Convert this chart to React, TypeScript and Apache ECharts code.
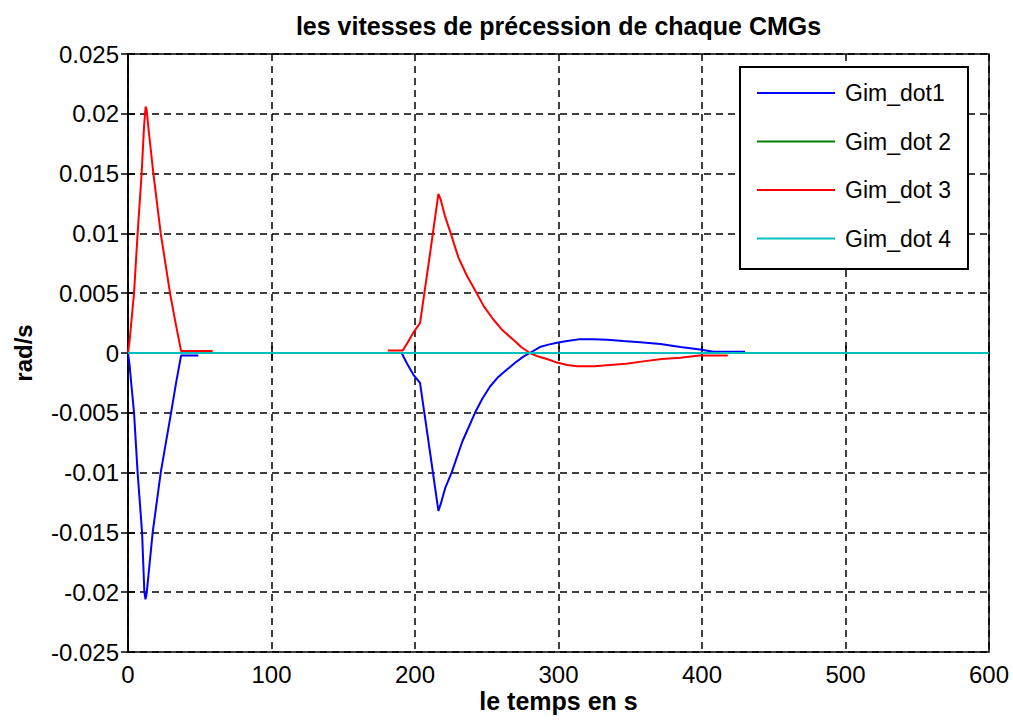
import React, { useEffect, useRef } from "react";
import * as echarts from "echarts";

// Time stamps (s) and precession rates (rad/s) for each gimbal, split in two bursts.
const T_DOT1_A = [0, 1, 4.2, 6.7, 9.8, 11.4, 12.2, 13.1, 17.2, 22.8, 30, 33.5, 37, 49];
const V_DOT1_A = [0, -0.0009, -0.005, -0.01, -0.015, -0.02, -0.0206, -0.02, -0.015, -0.01, -0.005, -0.0025, -0.0002, -0.0002];
const T_DOT1_B = [190.7, 194.5, 198.8, 203.5, 210, 216.3, 218, 221, 225.5, 233, 241.8, 247, 252.3, 258, 263.9, 270, 275.5, 280, 287, 293, 299, 306, 314, 324, 334, 345, 357, 371, 385, 398.6, 408, 430];
const V_DOT1_B = [0, -0.0009, -0.0018, -0.0025, -0.0079, -0.0132, -0.0126, -0.0113, -0.01, -0.0074, -0.005, -0.0038, -0.0028, -0.002, -0.0014, -0.0008, -0.0003, 0, 0.0005, 0.0007, 0.00086, 0.001, 0.00114, 0.00115, 0.0011, 0.001, 0.0009, 0.00075, 0.0005, 0.0003, 0.0001, 0.0001];

const T_DOT3_A = [0, 1, 4.2, 6.7, 9.5, 11.2, 12.3, 13, 14.5, 17.7, 22.8, 29.3, 33, 37, 59];
const V_DOT3_A = [0, 0.0009, 0.005, 0.01, 0.015, 0.019, 0.0206, 0.0203, 0.0185, 0.015, 0.01, 0.005, 0.0026, 0.00016, 0.00016];
const T_DOT3_B = [181, 191.4, 195, 198.8, 203.5, 210, 216.3, 218, 221, 224.9, 230.2, 236, 243, 248, 254.6, 261, 268.5, 274, 280, 286, 292, 299, 306, 313, 325, 336, 347, 359, 372, 385, 398, 418];
const V_DOT3_B = [0.0002, 0.0002, 0.0009, 0.0017, 0.0025, 0.0079, 0.0133, 0.0128, 0.0114, 0.01, 0.008, 0.0065, 0.005, 0.0039, 0.0028, 0.0019, 0.0011, 0.0005, 0, -0.0003, -0.0005, -0.0008, -0.001, -0.0011, -0.0011, -0.001, -0.0009, -0.0007, -0.0005, -0.0004, -0.0002, -0.0002];

// Gimbals 2 and 4 stay at rest over the whole run.
const T_IDLE = [0, 600];
const V_DOT2 = [0, 0];
const V_DOT4 = [0, 0];

const SERIES_NAMES = ["Gim_dot1", "Gim_dot 2", "Gim_dot 3", "Gim_dot 4"];
const SERIES_COLORS = ["#0000ff", "#008000", "#ff0000", "#00bfbf"];

const X_TICKS = { min: 0, max: 600, interval: 100 };
const Y_TICKS = { min: -0.025, max: 0.025, interval: 0.005 };

const FONT = "'Liberation Sans', Arial, sans-serif";

function pairs(ts: number[], vs: number[]) {
  return ts.map((t, i) => [t, vs[i]]);
}

function bursts(tA: number[], vA: number[], tB: number[], vB: number[]) {
  // a '-' value breaks the line between the two bursts
  const gapT = (tA[tA.length - 1] + tB[0]) / 2;
  return [...pairs(tA, vA), [gapT, "-"], ...pairs(tB, vB)];
}

export default function App() {
  const ref = useRef<HTMLDivElement>(null);

  useEffect(() => {
    if (!ref.current) return;
    const chart = echarts.init(ref.current, undefined, { renderer: "svg" });

    const datasets = [
      bursts(T_DOT1_A, V_DOT1_A, T_DOT1_B, V_DOT1_B),
      pairs(T_IDLE, V_DOT2),
      bursts(T_DOT3_A, V_DOT3_A, T_DOT3_B, V_DOT3_B),
      pairs(T_IDLE, V_DOT4),
    ];

    const grid = { left: 128, right: 24, top: 54, bottom: 73 };
    const plotRight = 1013 - grid.right;
    const plotBottom = 725 - grid.bottom;
    const plotMidX = (grid.left + plotRight) / 2;
    const plotMidY = (grid.top + plotBottom) / 2;

    const tick = { show: true, inside: true, length: 7, lineStyle: { color: "#000", width: 1.5 } };
    const dashed = { show: true, lineStyle: { color: "#000", width: 1.5, type: [7, 5] } };
    const label = { color: "#000", fontSize: 24, fontFamily: FONT };

    chart.setOption({
      animation: false,
      backgroundColor: "#fff",
      grid: { ...grid, show: true, borderColor: "#000", borderWidth: 1.5, backgroundColor: "#fff" },
      xAxis: [
        {
          type: "value",
          ...X_TICKS,
          axisLine: { show: true, lineStyle: { color: "#000", width: 1.5 } },
          axisTick: tick,
          splitLine: dashed,
          axisLabel: { ...label, margin: 10 },
        },
        {
          type: "value",
          position: "top",
          ...X_TICKS,
          axisLine: { show: false },
          axisTick: tick,
          splitLine: { show: false },
          axisLabel: { show: false },
        },
      ],
      yAxis: [
        {
          type: "value",
          ...Y_TICKS,
          axisLine: { show: true, lineStyle: { color: "#000", width: 1.5 } },
          axisTick: tick,
          splitLine: dashed,
          axisLabel: {
            ...label,
            margin: 9,
            formatter: (v: number) => String(Number(v.toFixed(3))),
          },
        },
        {
          type: "value",
          position: "right",
          ...Y_TICKS,
          axisLine: { show: false },
          axisTick: tick,
          splitLine: { show: false },
          axisLabel: { show: false },
        },
      ],
      legend: {
        data: SERIES_NAMES.map((name) => ({ name, icon: "rect" })),
        orient: "vertical",
        left: 757,
        top: 81,
        padding: 0,
        itemWidth: 78,
        itemHeight: 2,
        itemGap: 24.5,
        z: 20,
        selectedMode: false,
        textStyle: {
          color: "#000",
          fontSize: 23,
          fontFamily: FONT,
          lineHeight: 24,
          padding: [0, 0, 0, 5],
        },
      },
      series: SERIES_NAMES.map((name, i) => ({
        name,
        type: "line",
        xAxisIndex: 0,
        yAxisIndex: 0,
        data: datasets[i],
        symbol: "none",
        showSymbol: false,
        connectNulls: false,
        lineStyle: { color: SERIES_COLORS[i], width: 2 },
        itemStyle: { color: SERIES_COLORS[i] },
        z: 2 + i,
      })),
      graphic: [
        {
          type: "rect",
          z: 10,
          shape: { x: 740, y: 67, width: 228, height: 202 },
          style: { fill: "#fff", stroke: "#000", lineWidth: 2 },
        },
        {
          type: "text",
          x: plotMidX,
          y: 26,
          style: {
            text: "les vitesses de précession de chaque CMGs",
            fill: "#000",
            font: `bold 25px ${FONT}`,
            align: "center",
            verticalAlign: "middle",
          },
        },
        {
          type: "text",
          x: plotMidX,
          y: 701,
          style: {
            text: "le temps en s",
            fill: "#000",
            font: `bold 25px ${FONT}`,
            align: "center",
            verticalAlign: "middle",
          },
        },
        {
          type: "text",
          x: 23,
          y: plotMidY,
          rotation: Math.PI / 2,
          style: {
            text: "rad/s",
            fill: "#000",
            font: `bold 24px ${FONT}`,
            align: "center",
            verticalAlign: "middle",
          },
        },
      ],
    });

    return () => chart.dispose();
  }, []);

  return (
    <div
      ref={ref}
      style={{ position: "absolute", left: 0, top: 0, width: 1013, height: 725 }}
    />
  );
}
